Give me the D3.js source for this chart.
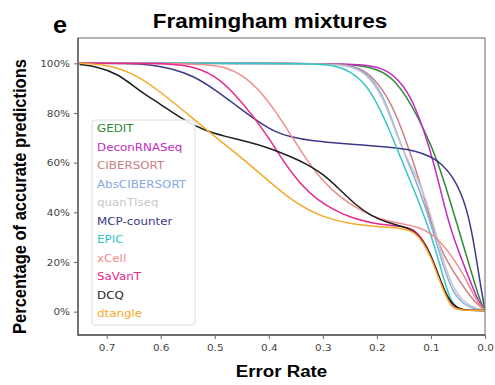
<!DOCTYPE html>
<html>
<head>
<meta charset="utf-8">
<script src="https://cdn.jsdelivr.net/npm/d3@7"></script>
<style>
  body { margin: 0; background: #fff; }
  svg { display: block; }
</style>
</head>
<body>
<script>
// data: [error rate, % accurate]
const GEDIT = [[0.75,100],[0.3,100],[0.25,99.6],[0.2,98],[0.17,94],[0.14,85],[0.11,72],[0.09,62],[0.065,45],[0.05,34],[0.035,23],[0.02,12],[0.007,3],[0,0.5]];
const DeconRNASeq = [[0.75,100],[0.3,100],[0.22,99.6],[0.18,97.5],[0.15,91],[0.13,83],[0.11,71],[0.095,60],[0.08,47],[0.065,34],[0.045,22],[0.025,11],[0.01,3],[0,0.5]];
const CIBERSORT = [[0.75,100],[0.3,100],[0.25,99.5],[0.22,97],[0.19,90],[0.165,80],[0.14,65],[0.12,52],[0.1,36],[0.085,27],[0.07,20],[0.04,10],[0.02,4],[0,0.5]];
const AbsCIBERSORT = [[0.75,100],[0.3,100],[0.25,99.2],[0.22,96.5],[0.19,88],[0.17,76],[0.15,64],[0.13,54],[0.11,42],[0.09,28],[0.075,17],[0.06,8],[0.04,3],[0.02,1],[0,0.5]];
const quanTIseq = [[0.75,100],[0.3,100],[0.25,99],[0.22,96],[0.19,87],[0.17,75],[0.15,64],[0.13,56],[0.11,46],[0.09,31],[0.075,19],[0.06,10],[0.04,4],[0.02,1.5],[0,0.5]];
const MCPcounter = [[0.75,100],[0.66,100],[0.62,99.5],[0.58,98],[0.54,95],[0.5,89.5],[0.46,83],[0.42,76.5],[0.39,72.5],[0.36,70.3],[0.32,68.8],[0.28,68],[0.24,67.3],[0.2,66.6],[0.16,65.8],[0.13,64.8],[0.1,62.5],[0.08,59.5],[0.06,54.5],[0.045,48],[0.035,42],[0.025,33],[0.015,20],[0.007,9],[0,0.5]];
const EPIC = [[0.75,100],[0.32,100],[0.28,99.3],[0.25,97],[0.22,91.5],[0.2,84],[0.18,75],[0.16,64],[0.14,53.5],[0.12,43],[0.1,31],[0.085,20],[0.072,10],[0.062,4],[0.052,1.2],[0.04,0.5],[0,0.5]];
const xCell = [[0.75,100],[0.52,100],[0.48,98.5],[0.45,95.5],[0.42,90],[0.39,81.5],[0.36,71.5],[0.33,61],[0.3,52.5],[0.27,46.5],[0.24,42],[0.21,38.5],[0.18,36.5],[0.15,35.3],[0.12,33.8],[0.1,31.5],[0.08,27.5],[0.06,22],[0.04,15],[0.025,8.5],[0.01,2.5],[0,0.5]];
const SaVanT = [[0.75,100],[0.6,100],[0.55,99.3],[0.5,95.5],[0.46,87],[0.43,79],[0.4,70],[0.37,59.5],[0.34,51],[0.31,45],[0.28,41],[0.25,38],[0.21,35.7],[0.18,34.8],[0.15,34.2],[0.13,33],[0.115,29],[0.1,23],[0.085,14],[0.07,5.5],[0.06,2],[0.045,0.5],[0,0.5]];
const DCQ = [[0.75,99.5],[0.72,98.8],[0.68,96],[0.64,89],[0.6,83.5],[0.56,77.5],[0.52,73],[0.48,70.5],[0.44,68.5],[0.4,66],[0.36,62.5],[0.33,59.5],[0.3,55.5],[0.27,49.5],[0.24,43],[0.21,38.5],[0.18,35.8],[0.15,34.2],[0.13,32.5],[0.11,27],[0.095,20],[0.08,11],[0.065,4],[0.05,1.2],[0.03,0.5],[0,0.5]];
const dtangle = [[0.75,100],[0.7,99.5],[0.65,96],[0.6,88.5],[0.55,79.5],[0.5,70.5],[0.45,62],[0.4,52.5],[0.35,43.5],[0.3,38],[0.25,35.3],[0.2,34.2],[0.15,33.6],[0.13,32],[0.115,28],[0.1,22],[0.085,13],[0.07,5],[0.06,1.5],[0.045,0.5],[0,0.5]];

const methods = ["GEDIT","DeconRNASeq","CIBERSORT","AbsCIBERSORT","quanTIseq","MCP-counter","EPIC","xCell","SaVanT","DCQ","dtangle"];
const series = [GEDIT, DeconRNASeq, CIBERSORT, AbsCIBERSORT, quanTIseq, MCPcounter, EPIC, xCell, SaVanT, DCQ, dtangle];
const colors = ["#2f8a36","#c42cc4","#c97f7f","#86a9e6","#c9c9c9","#3b3a85","#35c6c6","#f08c8c","#e8288c","#1e1e1e","#f7a928"];
const xTicks = [0.7,0.6,0.5,0.4,0.3,0.2,0.1,0.0];
const yTicks = [0,20,40,60,80,100];

// plot box in page pixels
var box = {left: 78, right: 485, top: 38, bottom: 335};
var sx = 1.1; // the reference is stretched a bit sideways

var svg = d3.select("body").append("svg")
  .attr("width", 495).attr("height", 385)
  .style("font-family", "'Liberation Sans', Arial, sans-serif");

var x = d3.scaleLinear().domain([0.753, 0]).range([box.left, box.right]);
var y = d3.scaleLinear().domain([-9.4, 110.2]).range([box.bottom, box.top]);

// curves, clipped to the axes box
svg.append("clipPath").attr("id", "clip")
  .append("rect")
    .attr("x", box.left).attr("y", box.top)
    .attr("width", box.right - box.left).attr("height", box.bottom - box.top);

var line = d3.line()
  .x(function(d) { return x(d[0]); })
  .y(function(d) { return y(d[1]); })
  .curve(d3.curveBasis);

svg.append("g").attr("clip-path", "url(#clip)")
  .selectAll("path")
  .data(series)
  .enter()
  .append("path")
    .attr("d", line)
    .attr("fill", "none")
    .attr("stroke", function(d, i) { return colors[i]; })
    .attr("stroke-width", 1.5);

// frame
svg.append("rect")
  .attr("x", box.left).attr("y", box.top)
  .attr("width", box.right - box.left).attr("height", box.bottom - box.top)
  .attr("fill", "none").attr("stroke", "#8a8a8a").attr("stroke-width", 1.3);
svg.append("path")
  .attr("d", `M${box.left},${box.top}V${box.bottom}H${box.right}`)
  .attr("fill", "none").attr("stroke", "#555").attr("stroke-width", 1.3);

// axes
var xAxis = svg.append("g")
  .attr("transform", `translate(0,${box.bottom})`)
  .call(d3.axisBottom(x).tickValues(xTicks).tickFormat(d3.format(".1f")).tickSize(4).tickPadding(5));
var yAxis = svg.append("g")
  .attr("transform", `translate(${box.left},0)`)
  .call(d3.axisLeft(y).tickValues(yTicks).tickFormat(function(d) { return d + "%"; }).tickSize(4).tickPadding(4));

[xAxis, yAxis].forEach(function(a) {
  a.select(".domain").remove();
  a.selectAll(".tick line").attr("stroke", "#666");
  a.selectAll(".tick text")
    .attr("fill", "#444")
    .style("font-family", "'DejaVu Sans', sans-serif")
    .style("font-size", "9.5px");
});
xAxis.selectAll(".tick text").attr("transform", `scale(${sx},1)`);
yAxis.selectAll(".tick text").attr("transform", `scale(${sx},1)`).attr("x", -8 / sx);

// legend
var lg = svg.append("g");
lg.append("rect")
  .attr("x", 92).attr("y", 120).attr("width", 103).attr("height", 205)
  .attr("rx", 3)
  .attr("fill", "#fff").attr("fill-opacity", 0.85)
  .attr("stroke", "#dcdcdc");
lg.selectAll("text")
  .data(methods)
  .enter()
  .append("text")
    .attr("transform", function(d, i) { return `translate(97,${132 + i * 18.5}) scale(${sx},1)`; })
    .attr("fill", function(d, i) { return colors[i]; })
    .style("font-family", "'DejaVu Sans', sans-serif")
    .style("font-size", "10.8px")
    .text(function(d) { return d; });

// titles
svg.append("text")
  .attr("transform", `translate(270,28) scale(1.07,1)`)
  .attr("text-anchor", "middle")
  .style("font-size", "21px").style("font-weight", "bold")
  .text("Framingham mixtures");

svg.append("text")
  .attr("transform", `translate(53,33) scale(${sx},1)`)
  .style("font-size", "23px").style("font-weight", "bold")
  .text("e");

svg.append("text")
  .attr("transform", `translate(${(box.left + box.right) / 2},377) scale(${sx},1)`)
  .attr("text-anchor", "middle")
  .style("font-size", "17px").style("font-weight", "bold")
  .text("Error Rate");

svg.append("text")
  .attr("transform", `translate(26,${(box.top + box.bottom) / 2 + 10}) scale(${sx},1) rotate(-90)`)
  .attr("text-anchor", "middle")
  .style("font-size", "16.5px").style("font-weight", "bold")
  .text("Percentage of accurate predictions");
</script>
</body>
</html>
